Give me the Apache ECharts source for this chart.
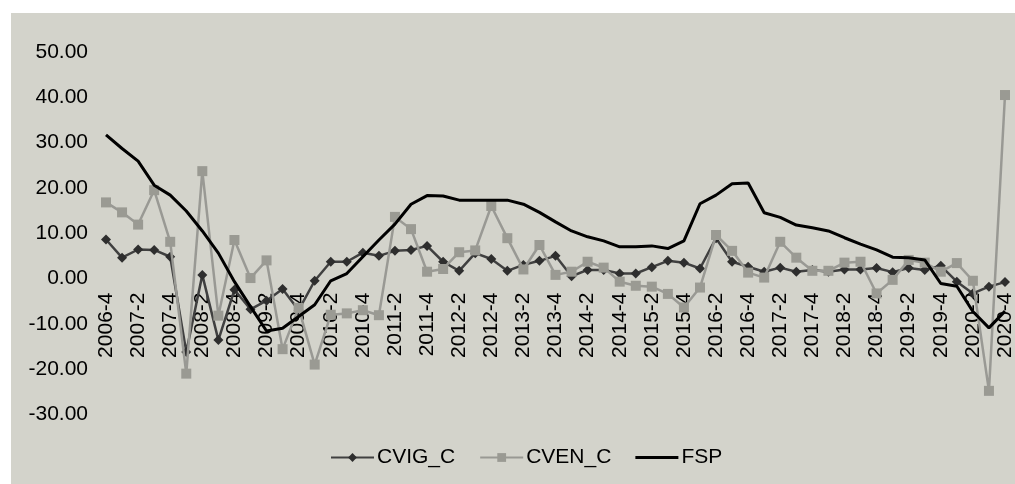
<!DOCTYPE html>
<html>
<head>
<meta charset="utf-8">
<script src="https://cdn.jsdelivr.net/npm/echarts@6/dist/echarts.min.js"></script>
<style>
  html, body { margin: 0; padding: 0; background: #ffffff; }
  #chart { width: 1015px; height: 484px; }
</style>
</head>
<body>
<div id="chart"></div>
<script>
// Quarterly periods, 2006-4 through 2020-4
const categories = [
  '2006-4',
  '2007-1', '2007-2', '2007-3', '2007-4',
  '2008-1', '2008-2', '2008-3', '2008-4',
  '2009-1', '2009-2', '2009-3', '2009-4',
  '2010-1', '2010-2', '2010-3', '2010-4',
  '2011-1', '2011-2', '2011-3', '2011-4',
  '2012-1', '2012-2', '2012-3', '2012-4',
  '2013-1', '2013-2', '2013-3', '2013-4',
  '2014-1', '2014-2', '2014-3', '2014-4',
  '2015-1', '2015-2', '2015-3', '2015-4',
  '2016-1', '2016-2', '2016-3', '2016-4',
  '2017-1', '2017-2', '2017-3', '2017-4',
  '2018-1', '2018-2', '2018-3', '2018-4',
  '2019-1', '2019-2', '2019-3', '2019-4',
  '2020-1', '2020-2', '2020-3', '2020-4'
];

const cvigC = [
  8.6, 4.6, 6.4, 6.3, 4.8,
  -16.2, 0.8, -13.6, -2.5, -6.8,
  -4.9, -2.3, -7.0, -0.5, 3.7,
  3.7, 5.7, 5.0, 6.1, 6.3,
  7.2, 3.7, 1.7, 5.6, 4.3,
  1.7, 3.0, 3.9, 5.0, 0.5,
  1.9, 1.9, 1.1, 1.1, 2.5,
  3.9, 3.5, 2.2, 8.9, 3.7,
  2.6, 1.5, 2.4, 1.5, 1.9,
  1.5, 2.0, 2.0, 2.3, 1.4,
  2.3, 1.9, 2.8, -0.7, -3.3,
  -1.8, -0.8
];

const cvenC = [
  16.8, 14.6, 11.9, 19.5, 8.1,
  -21.0, 23.7, -8.2, 8.5, 0.1,
  4.0, -15.6, -6.5, -19.0, -8.0,
  -7.7, -7.0, -8.1, 13.6, 10.9,
  1.5, 2.1, 5.8, 6.2, 16.0,
  8.9, 2.0, 7.4, 0.8, 1.5,
  3.7, 2.4, -0.7, -1.6, -1.8,
  -3.4, -6.4, -2.0, 9.6, 6.1,
  1.3, 0.2, 8.1, 4.6, 1.7,
  1.7, 3.5, 3.7, -3.3, -0.3,
  4.1, 3.5, 1.5, 3.4, -0.5,
  -24.8, 40.5
];

const fsp = [
  31.7, 28.7, 25.9, 20.6, 18.4,
  14.9, 10.5, 5.6, -0.7, -6.2,
  -11.6, -11.0, -8.4, -5.8, -0.5,
  1.1, 4.8, 8.5, 12.0, 16.4,
  18.3, 18.2, 17.3, 17.3, 17.3,
  17.3, 16.4, 14.6, 12.5, 10.5,
  9.2, 8.3, 7.0, 7.0, 7.2,
  6.6, 8.3, 16.5, 18.4, 20.9,
  21.1, 14.5, 13.5, 11.8, 11.2,
  10.5, 9.0, 7.6, 6.3, 4.7,
  4.6, 4.1, -1.1, -1.7, -7.3,
  -10.9, -7.2
];

const Y_MIN = -30;
const Y_MAX = 50;
const GRID_TOP = 52;
const GRID_BOTTOM = 69.6;
const CHART_H = 484;

// the category labels sit on the zero line, so shift the bottom axis up to y = 0
const plotH = CHART_H - GRID_TOP - GRID_BOTTOM;
const zeroOffset = -plotH * (0 - Y_MIN) / (Y_MAX - Y_MIN);

const FONT = "'Liberation Sans', Arial, sans-serif";
const chart = echarts.init(document.getElementById('chart'), null, { renderer: 'canvas' });

chart.setOption({
  animation: false,
  backgroundColor: '#ffffff',
  graphic: [{
    type: 'rect',
    z: -10,
    silent: true,
    shape: { x: 11, y: 13, width: 1004, height: 471 },
    style: { fill: '#D3D3CB' }
  }],
  grid: {
    left: 106, right: 10, top: GRID_TOP, bottom: GRID_BOTTOM,
    containLabel: false,
    outerBoundsMode: 'none'
  },
  legend: {
    left: 330,
    top: 447,
    padding: 0,
    itemWidth: 43,
    itemHeight: 11,
    itemGap: 24,
    textStyle: { fontFamily: FONT, fontSize: 21, color: '#000000', padding: [0, 0, 0, -2] },
    data: ['CVIG_C', 'CVEN_C', { name: 'FSP', icon: 'path://M0,0L43,0L43,3L0,3Z', itemHeight: 3 }]
  },
  xAxis: {
    type: 'category',
    data: categories,
    boundaryGap: false,
    position: 'bottom',
    offset: zeroOffset,
    axisLine: { show: false, onZero: false },
    axisTick: { show: false },
    axisLabel: {
      interval: 1,
      rotate: 90,
      margin: 14,
      fontFamily: FONT,
      fontSize: 21,
      color: '#000000'
    },
    splitLine: { show: false }
  },
  yAxis: {
    type: 'value',
    min: Y_MIN,
    max: Y_MAX,
    interval: 10,
    axisLine: { show: false },
    axisTick: { show: false },
    splitLine: { show: false },
    axisLabel: {
      margin: 18,
      fontFamily: FONT,
      fontSize: 21,
      color: '#000000',
      formatter: v => v.toFixed(2)
    }
  },
  series: [
    {
      name: 'CVIG_C',
      type: 'line',
      data: cvigC,
      symbol: 'diamond',
      symbolSize: 10,
      lineStyle: { color: '#404040', width: 2.5 },
      itemStyle: { color: '#2e2e2e' },
      z: 2
    },
    {
      name: 'CVEN_C',
      type: 'line',
      data: cvenC,
      symbol: 'rect',
      symbolSize: 10,
      lineStyle: { color: '#999994', width: 2.5 },
      itemStyle: { color: '#9a9a93' },
      z: 3
    },
    {
      name: 'FSP',
      type: 'line',
      data: fsp,
      symbol: 'none',
      lineStyle: { color: '#000000', width: 3 },
      itemStyle: { color: '#000000' },
      z: 4
    }
  ]
});
</script>
</body>
</html>
